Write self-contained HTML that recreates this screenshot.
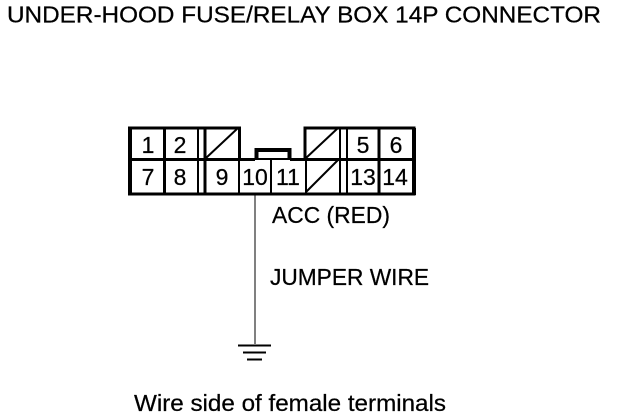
<!DOCTYPE html>
<html><head><meta charset="utf-8"><style>
html,body{margin:0;padding:0;background:#fff;width:624px;height:420px;overflow:hidden}
svg{display:block}
text{font-family:"Liberation Sans",sans-serif;fill:#000;stroke:#000;stroke-width:.25}
.n{font-size:23px;text-anchor:middle}
.l{font-size:23px}
</style></head><body>
<svg width="624" height="420" viewBox="0 0 624 420" xmlns="http://www.w3.org/2000/svg">
<text class="l" x="7" y="22.5" textLength="594" lengthAdjust="spacingAndGlyphs">UNDER-HOOD FUSE/RELAY BOX 14P CONNECTOR</text>
<g fill="none" stroke="#000" shape-rendering="crispEdges">
<!-- outer -->
<path stroke-width="3" d="M239.5 159V128H129.5V194H414V128H305V159"/>
<path stroke-width="4" d="M130 128V194M414 128V195"/>
<!-- mid line -->
<path stroke-width="3" d="M129 159.5H255M290 159.5H414"/>
<path stroke-width="2" d="M255 159H290"/>
<!-- verticals -->
<path stroke-width="3" d="M164.5 128V194M205 128V194M379 128V194"/>
<path stroke-width="2" d="M198 128V194M340 128V194M347 128V194M239 159V194M271 159V194M306 159V194"/>
<!-- raised notch -->
<path stroke-width="4" d="M256.5 160V150H289.5V160"/>
<!-- wire and ground -->
<path stroke-width="1" d="M255 195V344"/>
<path stroke-width="2" d="M238 345.5H271M243 352.5H266M247 359.5H262"/>
</g>
<g fill="none" stroke="#000" stroke-width="2">
<path d="M206 158L238 128M306 158L338 128M306 192L338 160"/>
</g>
<text class="n" x="148" y="153">1</text>
<text class="n" x="180" y="153">2</text>
<text class="n" x="363" y="153">5</text>
<text class="n" x="396" y="153">6</text>
<text class="n" x="148" y="185">7</text>
<text class="n" x="180" y="185">8</text>
<text class="n" x="222" y="185">9</text>
<text class="n" x="255" y="185">10</text>
<text class="n" x="288" y="185">11</text>
<text class="n" x="363" y="185">13</text>
<text class="n" x="395" y="185">14</text>
<text class="l" x="272" y="223" textLength="118" lengthAdjust="spacingAndGlyphs">ACC (RED)</text>
<text class="l" x="270" y="285" textLength="159" lengthAdjust="spacingAndGlyphs">JUMPER WIRE</text>
<text class="l" x="134" y="411" textLength="312" lengthAdjust="spacingAndGlyphs">Wire side of female terminals</text>
</svg>
</body></html>
